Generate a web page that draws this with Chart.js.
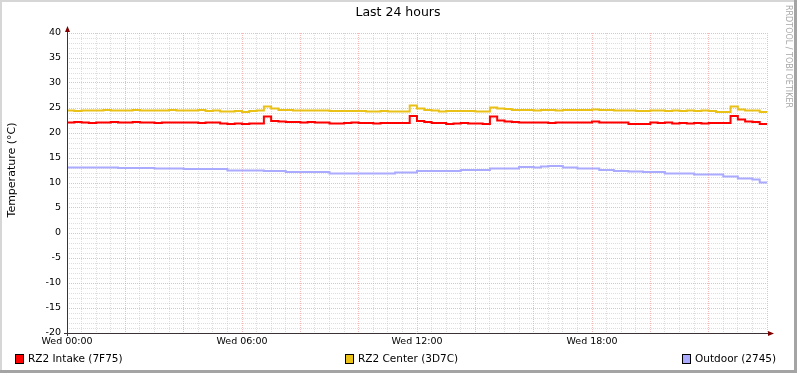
<!DOCTYPE html>
<html>
<head>
<meta charset="utf-8">
<script src="https://cdn.jsdelivr.net/npm/chart.js@4/dist/chart.umd.min.js"></script>
<style>
  html, body { margin: 0; padding: 0; background: #fff; }
  #wrap { width: 797px; height: 373px; }
</style>
</head>
<body>
<div id="wrap"><canvas id="chart" width="797" height="373"></canvas></div>
<script>
// samples every 15 minutes, Wed 00:00 .. Thu 00:00
const SAMPLE_HOURS = 0.25;
const hourTicks = [0, 6, 12, 18];
const tickLabels = ['Wed 00:00', 'Wed 06:00', 'Wed 12:00', 'Wed 18:00'];
const seriesNames = ['RZ2 Intake (7F75)', 'RZ2 Center (3D7C)', 'Outdoor (2745)'];
const seriesColors = ['#FF0000', '#EAC117', '#AAAAFF'];

const intake = [
  22.1, 22.2, 22.1, 22.0, 22.1, 22.1, 22.2, 22.1,
  22.1, 22.2, 22.1, 22.1, 22.0, 22.1, 22.1, 22.1,
  22.1, 22.1, 22.0, 22.1, 22.1, 21.9, 21.8, 21.9,
  21.8, 21.9, 21.9, 23.3, 22.4, 22.3, 22.2, 22.2,
  22.1, 22.2, 22.1, 22.1, 21.9, 21.9, 22.0, 22.1,
  22.0, 22.0, 21.9, 22.0, 22.0, 22.0, 22.0, 23.4,
  22.4, 22.2, 22.0, 22.0, 21.8, 21.9, 22.0, 21.9,
  21.9, 21.8, 23.3, 22.5, 22.3, 22.2, 22.1, 22.1,
  22.1, 22.1, 22.0, 22.1, 22.1, 22.1, 22.1, 22.1,
  22.3, 22.1, 22.1, 22.1, 22.1, 21.8, 21.8, 21.8,
  22.1, 22.0, 22.1, 21.9, 22.0, 21.9, 22.0, 21.9,
  22.0, 22.0, 22.0, 23.4, 22.7, 22.3, 22.2, 21.8,
  21.8
];

const center = [
  24.5, 24.4, 24.5, 24.5, 24.5, 24.6, 24.5, 24.5,
  24.5, 24.6, 24.5, 24.5, 24.5, 24.5, 24.6, 24.5,
  24.5, 24.5, 24.6, 24.4, 24.5, 24.3, 24.3, 24.4,
  24.2, 24.4, 24.5, 25.3, 24.9, 24.6, 24.6, 24.5,
  24.5, 24.5, 24.5, 24.5, 24.4, 24.4, 24.4, 24.4,
  24.4, 24.3, 24.3, 24.4, 24.3, 24.3, 24.3, 25.5,
  24.9, 24.6, 24.5, 24.3, 24.4, 24.4, 24.4, 24.4,
  24.3, 24.3, 25.1, 24.9, 24.8, 24.6, 24.6, 24.6,
  24.5, 24.6, 24.6, 24.5, 24.6, 24.6, 24.6, 24.6,
  24.7, 24.6, 24.6, 24.5, 24.5, 24.5, 24.4, 24.4,
  24.5, 24.5, 24.4, 24.5, 24.4, 24.5, 24.4, 24.5,
  24.4, 24.2, 24.2, 25.3, 24.7, 24.5, 24.5, 24.2,
  24.2
];

const outdoor = [
  13.1, 13.1, 13.1, 13.1, 13.1, 13.1, 13.1, 13.0,
  13.0, 13.0, 13.0, 13.0, 12.9, 12.9, 12.9, 12.9,
  12.8, 12.8, 12.8, 12.8, 12.8, 12.8, 12.5, 12.5,
  12.5, 12.5, 12.5, 12.4, 12.4, 12.4, 12.2, 12.2,
  12.2, 12.2, 12.2, 12.2, 11.9, 11.9, 11.9, 11.9,
  11.9, 11.9, 11.9, 11.9, 11.9, 12.1, 12.1, 12.1,
  12.4, 12.4, 12.4, 12.4, 12.4, 12.4, 12.6, 12.6,
  12.6, 12.6, 12.9, 12.9, 12.9, 12.9, 13.2, 13.2,
  13.1, 13.3, 13.4, 13.4, 13.1, 13.1, 12.9, 12.9,
  12.9, 12.6, 12.6, 12.4, 12.4, 12.3, 12.3, 12.2,
  12.2, 12.2, 11.9, 11.9, 11.9, 11.9, 11.7, 11.7,
  11.7, 11.7, 11.3, 11.3, 10.9, 10.9, 10.7, 10.1,
  10.1
];

const FONT = '"DejaVu Sans", Verdana, sans-serif';
const MAJOR_GRID = 'rgba(238, 140, 140, 0.6)';
const MINOR_GRID = 'rgba(190, 190, 190, 0.5)';

function toPoints(values) {
  return values.map((v, i) => ({ x: i * SAMPLE_HOURS, y: v }));
}

// frame, title, axis arrows, watermark and legend in rrdtool style
const rrdDecor = {
  id: 'rrdDecor',
  beforeDraw(chart) {
    const ctx = chart.ctx;
    const W = chart.width, H = chart.height;
    ctx.save();
    ctx.fillStyle = '#fff';
    ctx.fillRect(0, 0, W, H);
    ctx.fillStyle = '#d6d6d6';
    ctx.fillRect(0, 0, W, 2);
    ctx.fillRect(0, 0, 2, H);
    ctx.fillStyle = '#a4a4a4';
    ctx.fillRect(0, H - 3, W, 3);
    ctx.fillRect(W - 3, 0, 3, H);
    ctx.restore();
  },
  afterDraw(chart) {
    const ctx = chart.ctx;
    const a = chart.chartArea;
    ctx.save();

    // axes
    ctx.strokeStyle = '#3c3434';
    ctx.lineWidth = 1;
    ctx.beginPath();
    ctx.moveTo(a.left + 0.5, a.bottom + 3);
    ctx.lineTo(a.left + 0.5, a.top - 2);
    ctx.moveTo(a.left - 3, a.bottom + 0.5);
    ctx.lineTo(a.right + 2, a.bottom + 0.5);
    ctx.stroke();

    ctx.fillStyle = '#7f0000';
    ctx.beginPath();
    ctx.moveTo(a.left + 0.5, a.top - 7);
    ctx.lineTo(a.left - 2, a.top - 1);
    ctx.lineTo(a.left + 3, a.top - 1);
    ctx.closePath();
    ctx.fill();
    ctx.beginPath();
    ctx.moveTo(a.right + 7, a.bottom + 0.5);
    ctx.lineTo(a.right + 1, a.bottom - 2);
    ctx.lineTo(a.right + 1, a.bottom + 3);
    ctx.closePath();
    ctx.fill();

    // title
    ctx.fillStyle = '#000';
    ctx.font = '12.5px ' + FONT;
    ctx.textAlign = 'center';
    ctx.textBaseline = 'middle';
    ctx.fillText('Last 24 hours', 398, 13);

    // y axis title
    ctx.save();
    ctx.translate(12, 170);
    ctx.rotate(-Math.PI / 2);
    ctx.font = '11px ' + FONT;
    ctx.fillText('Temperature (°C)', 0, 0);
    ctx.restore();

    // watermark
    ctx.save();
    ctx.translate(788, 5);
    ctx.rotate(Math.PI / 2);
    ctx.font = '8px ' + FONT;
    ctx.fillStyle = '#a8a8a8';
    ctx.textAlign = 'left';
    ctx.fillText('RRDTOOL / TOBI OETIKER', 0, 0);
    ctx.restore();

    // legend
    const slots = [15, 345, 682];
    ctx.font = '10.5px ' + FONT;
    ctx.textAlign = 'left';
    chart.data.datasets.forEach((ds, i) => {
      const x = slots[i];
      ctx.fillStyle = ds.borderColor;
      ctx.fillRect(x, 354, 9, 10);
      ctx.strokeStyle = '#000';
      ctx.strokeRect(x + 0.5, 354.5, 8, 9);
      ctx.fillStyle = '#000';
      ctx.fillText(ds.label, x + 13, 359);
    });

    ctx.restore();
  }
};

const ctx = document.getElementById('chart').getContext('2d');
new Chart(ctx, {
  type: 'line',
  data: {
    datasets: [intake, center, outdoor].map((vals, i) => ({
      label: seriesNames[i],
      data: toPoints(vals),
      borderColor: seriesColors[i],
      backgroundColor: seriesColors[i],
      borderWidth: 2,
      pointRadius: 0,
      stepped: true,
      fill: false
    }))
  },
  options: {
    responsive: false,
    animation: false,
    layout: { padding: { left: 0, top: 33, right: 30, bottom: 0 } },
    plugins: { legend: { display: false }, tooltip: { enabled: false } },
    scales: {
      x: {
        type: 'linear',
        min: 0,
        max: 24,
        afterFit(scale) { scale.height = 40; },
        border: { display: false, dash: [1, 1] },
        grid: {
          drawTicks: false,
          lineWidth: 1,
          color: c => (c.tick && c.tick.value % 2 === 0) ? MAJOR_GRID : MINOR_GRID
        },
        ticks: {
          stepSize: 0.5,
          autoSkip: false,
          maxRotation: 0,
          padding: 3,
          color: '#000',
          font: { family: FONT, size: 9.5 },
          callback: v => {
            const k = hourTicks.indexOf(v);
            return k >= 0 ? tickLabels[k] : '';
          }
        }
      },
      y: {
        min: -20,
        max: 40,
        afterFit(scale) { scale.width = 67; },
        border: { display: false, dash: [1, 1] },
        grid: {
          drawTicks: false,
          lineWidth: 1,
          color: c => (c.tick && c.tick.value % 5 === 0) ? MAJOR_GRID : MINOR_GRID
        },
        ticks: {
          stepSize: 1,
          autoSkip: false,
          padding: 6,
          color: '#000',
          font: { family: FONT, size: 9.5 },
          callback: v => (v % 5 === 0 ? String(v) : '')
        }
      }
    }
  },
  plugins: [rrdDecor]
});
</script>
</body>
</html>
